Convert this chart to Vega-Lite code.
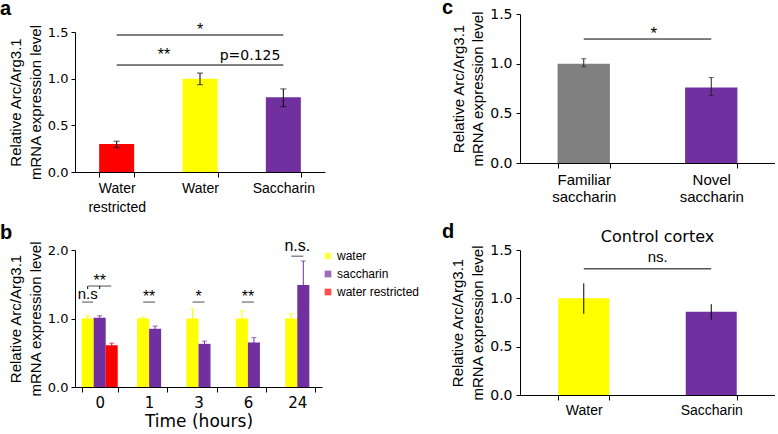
{
  "$schema": "https://vega.github.io/schema/vega-lite/v6.json",
  "padding": {"left": 0, "top": -2, "right": 0, "bottom": 0},
  "background": "white",
  "bounds": "flush",
  "columns": 2,
  "spacing": {"row": 78, "column": 195},
  "config": {
    "view": {"stroke": null},
    "font": "Liberation Sans",
    "axis": {"grid": false, "domainColor": "#000", "tickColor": "#000", "labelColor": "#000", "titleColor": "#000", "titleFontWeight": "normal", "titleFont": "Liberation Sans", "titleFontSize": 15, "titleLineHeight": 20, "labelFont": "DejaVu Sans", "labelFontSize": 13, "tickSize": 4, "labelPadding": 3, "titlePadding": 4},
    "axisX": {"labelFont": "Liberation Sans", "labelFontSize": 14, "labelAngle": 0, "tickBand": "extent", "tickSize": 5, "labelPadding": 4, "labelLineHeight": 19},
    "title": {"font": "Liberation Sans", "fontSize": 20, "fontWeight": "bold", "anchor": "start", "frame": "group", "color": "#000", "baseline": "alphabetic"},
    "tick": {"thickness": 1}
  },
  "resolve": {"scale": {"color": "independent"}, "legend": {"color": "independent"}},
  "concat": [
    {
      "width": 250, "height": 158,
      "title": {"text": "a", "dx": -75, "offset": -5},
      "data": {"values": [
        {"group": "Water restricted", "mean": 0.30, "lo": 0.26, "hi": 0.33},
        {"group": "Water", "mean": 1.0, "lo": 0.935, "hi": 1.06},
        {"group": "Saccharin", "mean": 0.80, "lo": 0.70, "hi": 0.89}
      ]},
      "layer": [
        {"mark": {"type": "bar"}, "encoding": {
          "x": {"field": "group", "type": "nominal", "scale": {"domain": ["Water restricted", "Water", "Saccharin"], "paddingInner": 0.58, "paddingOuter": 0.29}, "axis": {"title": null, "labelExpr": "split(datum.label, ' ')"}},
          "y": {"field": "mean", "type": "quantitative", "scale": {"domain": [0, 1.5], "range": [158, 18], "nice": false}, "axis": {"values": [0, 0.5, 1, 1.5], "format": ".1f", "title": ["Relative Arc/Arg3.1", "mRNA expression level"]}},
          "color": {"field": "group", "type": "nominal", "scale": {"domain": ["Water restricted", "Water", "Saccharin"], "range": ["#ff0000", "#ffff00", "#7030a0"]}, "legend": null}
        }},
        {"mark": {"type": "rule", "color": "#000"}, "encoding": {
          "x": {"field": "group", "type": "nominal", "title": null},
          "y": {"field": "lo", "type": "quantitative"}, "y2": {"field": "hi"}}},
        {"mark": {"type": "tick", "orient": "horizontal", "size": 6, "color": "#000"}, "encoding": {
          "x": {"field": "group", "type": "nominal", "title": null},
          "y": {"field": "lo", "type": "quantitative"}}},
        {"mark": {"type": "tick", "orient": "horizontal", "size": 6, "color": "#000"}, "encoding": {
          "x": {"field": "group", "type": "nominal", "title": null},
          "y": {"field": "hi", "type": "quantitative"}}},
        {"data": {"values": [
          {"from": "Water restricted", "to": "Saccharin", "level": 1.468},
          {"from": "Water restricted", "to": "Water", "level": 1.146},
          {"from": "Water", "to": "Saccharin", "level": 1.146}
        ]},
         "mark": {"type": "rule", "color": "#000"}, "encoding": {
          "x": {"field": "from", "type": "nominal", "title": null}, "x2": {"field": "to"},
          "y": {"field": "level", "type": "quantitative"}}},
        {"data": {"values": [{"label": "*", "at": "Water", "level": 1.468}]},
         "mark": {"type": "text", "fontSize": 16, "baseline": "alphabetic", "color": "#000"}, "encoding": {
          "x": {"field": "at", "type": "nominal", "title": null},
          "y": {"field": "level", "type": "quantitative"}, "text": {"field": "label"}}},
        {"data": {"values": [{"label": "**", "at": "Water", "level": 1.2}]},
         "mark": {"type": "text", "fontSize": 16, "baseline": "alphabetic", "color": "#000", "dx": -36}, "encoding": {
          "x": {"field": "at", "type": "nominal", "title": null},
          "y": {"field": "level", "type": "quantitative"}, "text": {"field": "label"}}},
        {"data": {"values": [{"label": "p=0.125", "at": "Water", "level": 1.2}]},
         "mark": {"type": "text", "fontSize": 14, "font": "DejaVu Sans", "baseline": "alphabetic", "color": "#000", "dx": 50}, "encoding": {
          "x": {"field": "at", "type": "nominal", "title": null},
          "y": {"field": "level", "type": "quantitative"}, "text": {"field": "label"}}}
      ]
    },
    {
      "width": 255, "height": 149,
      "title": {"text": "c", "dx": -78, "offset": -11},
      "data": {"values": [
        {"group": "Familiar saccharin", "mean": 1.0, "lo": 0.97, "hi": 1.05},
        {"group": "Novel saccharin", "mean": 0.76, "lo": 0.68, "hi": 0.86}
      ]},
      "encoding": {"x": {"field": "group", "type": "nominal", "scale": {"domain": ["Familiar saccharin", "Novel saccharin"], "paddingInner": 0.59, "paddingOuter": 0.295}, "axis": {"title": null, "labelExpr": "split(datum.label, ' ')", "labelFontSize": 15, "labelLineHeight": 17, "labelPadding": 4}}},
      "layer": [
        {"mark": {"type": "bar"}, "encoding": {
          "y": {"field": "mean", "type": "quantitative", "scale": {"domain": [0, 1.5], "nice": false}, "axis": {"values": [0, 0.5, 1, 1.5], "format": ".1f", "labelFontSize": 14, "labelPadding": 4, "titleLineHeight": 19, "title": ["Relative Arc/Arg3.1", "mRNA expression level"]}},
          "color": {"field": "group", "type": "nominal", "scale": {"domain": ["Familiar saccharin", "Novel saccharin"], "range": ["#808080", "#7030a0"]}, "legend": null}
        }},
        {"mark": {"type": "rule", "color": "#222"}, "encoding": {"y": {"field": "lo", "type": "quantitative"}, "y2": {"field": "hi"}}},
        {"mark": {"type": "tick", "orient": "horizontal", "size": 5, "color": "#222"}, "encoding": {"y": {"field": "lo", "type": "quantitative"}}},
        {"mark": {"type": "tick", "orient": "horizontal", "size": 5, "color": "#222"}, "encoding": {"y": {"field": "hi", "type": "quantitative"}}},
        {"data": {"values": [{"from": "Familiar saccharin", "to": "Novel saccharin", "level": 1.248}]},
         "mark": {"type": "rule", "color": "#000"}, "encoding": {
          "x": {"field": "from", "type": "nominal"}, "x2": {"field": "to"},
          "y": {"field": "level", "type": "quantitative"}}},
        {"data": {"values": [{"label": "*", "at": "Familiar saccharin", "level": 1.248}]},
         "mark": {"type": "text", "fontSize": 17, "baseline": "alphabetic", "color": "#000", "dx": 70}, "encoding": {
          "x": {"field": "at", "type": "nominal"},
          "y": {"field": "level", "type": "quantitative"}, "text": {"field": "label"}}}
      ]
    },
    {
      "width": 247, "height": 137,
      "title": {"text": "b", "dx": -75, "offset": -5},
      "encoding": {"x": {"field": "time", "type": "nominal", "scale": {"domain": ["0", "1", "3", "6", "24"], "paddingInner": 0.27, "paddingOuter": 0.135}, "axis": {"title": "Time (hours)", "titleFont": "DejaVu Sans", "titleFontSize": 17, "titlePadding": 3, "labelFont": "DejaVu Sans", "labelFontSize": 15, "labelPadding": 3}}},
      "layer": [
        {
          "data": {"values": [
            {"time": "0", "series": "water", "mean": 1.0, "lo": 0.96, "hi": 1.04},
            {"time": "0", "series": "saccharin", "mean": 1.01, "lo": 0.98, "hi": 1.04},
            {"time": "0", "series": "water restricted", "mean": 0.61, "lo": 0.58, "hi": 0.64}
          ]},
          "encoding": {
            "xOffset": {"field": "series", "type": "nominal", "scale": {"domain": ["water", "saccharin", "water restricted"], "paddingInner": 0, "paddingOuter": 0}},
            "color": {"field": "series", "type": "nominal", "scale": {"domain": ["water", "saccharin", "water restricted"], "range": ["#ffff00", "#7030a0", "#ff0000"]}, "legend": {"title": null, "orient": "right", "offset": 0, "symbolType": "square", "symbolSize": 45, "symbolStrokeWidth": 0, "labelFont": "Liberation Sans", "labelFontSize": 12, "labelColor": "#000", "rowPadding": 6, "labelOffset": 3, "padding": 0}}
          },
          "layer": [
            {"mark": {"type": "bar"}, "encoding": {"y": {"field": "mean", "type": "quantitative", "scale": {"domain": [0, 2], "nice": false}, "axis": {"values": [0, 0.5, 1, 1.5, 2], "format": ".1f", "title": ["Relative Arc/Arg3.1", "mRNA expression level"]}}}},
            {"mark": {"type": "rule", "color": "#000"}, "encoding": {"y": {"field": "lo", "type": "quantitative"}, "y2": {"field": "hi"}}},
            {"mark": {"type": "tick", "orient": "horizontal", "size": 5, "color": "#000"}, "encoding": {"y": {"field": "lo", "type": "quantitative"}}},
            {"mark": {"type": "tick", "orient": "horizontal", "size": 5, "color": "#000"}, "encoding": {"y": {"field": "hi", "type": "quantitative"}}}
          ]
        },
        {
          "data": {"values": [
            {"time": "1", "series": "water", "mean": 1.0, "lo": 0.98, "hi": 1.02},
            {"time": "1", "series": "saccharin", "mean": 0.85, "lo": 0.81, "hi": 0.89},
            {"time": "3", "series": "water", "mean": 1.0, "lo": 0.86, "hi": 1.14},
            {"time": "3", "series": "saccharin", "mean": 0.63, "lo": 0.59, "hi": 0.67},
            {"time": "6", "series": "water", "mean": 1.0, "lo": 0.89, "hi": 1.11},
            {"time": "6", "series": "saccharin", "mean": 0.65, "lo": 0.58, "hi": 0.72},
            {"time": "24", "series": "water", "mean": 1.0, "lo": 0.93, "hi": 1.07},
            {"time": "24", "series": "saccharin", "mean": 1.49, "lo": 1.14, "hi": 1.84}
          ]},
          "encoding": {
            "xOffset": {"field": "series", "type": "nominal", "scale": {"domain": ["water", "saccharin"], "paddingInner": 0, "paddingOuter": 0.5}},
            "color": {"field": "series", "type": "nominal"}
          },
          "layer": [
            {"mark": {"type": "bar"}, "encoding": {"y": {"field": "mean", "type": "quantitative"}}},
            {"mark": {"type": "rule", "color": "#000"}, "encoding": {"y": {"field": "lo", "type": "quantitative"}, "y2": {"field": "hi"}}},
            {"mark": {"type": "tick", "orient": "horizontal", "size": 5, "color": "#000"}, "encoding": {"y": {"field": "lo", "type": "quantitative"}}},
            {"mark": {"type": "tick", "orient": "horizontal", "size": 5, "color": "#000"}, "encoding": {"y": {"field": "hi", "type": "quantitative"}}}
          ]
        },
        {
          "data": {"values": [
            {"time": "1", "level": 1.24},
            {"time": "3", "level": 1.24},
            {"time": "6", "level": 1.24},
            {"time": "24", "level": 1.91}
          ]},
          "mark": {"type": "tick", "orient": "horizontal", "size": 12, "color": "#000"},
          "encoding": {"y": {"field": "level", "type": "quantitative"}}
        },
        {
          "data": {"values": [{"time": "0", "level": 1.474}]},
          "mark": {"type": "tick", "orient": "horizontal", "size": 23, "color": "#000"},
          "encoding": {"y": {"field": "level", "type": "quantitative"}}
        },
        {
          "data": {"values": [
            {"time": "1", "label": "**", "level": 1.24},
            {"time": "3", "label": "*", "level": 1.24},
            {"time": "6", "label": "**", "level": 1.24},
            {"time": "24", "label": "n.s.", "level": 1.985},
            {"time": "0", "label": "**", "level": 1.474}
          ]},
          "mark": {"type": "text", "fontSize": 16, "baseline": "alphabetic", "color": "#000"},
          "encoding": {"y": {"field": "level", "type": "quantitative"}, "text": {"field": "label"}}
        },
        {
          "data": {"values": [
            {"time": "0", "series": "water", "top": 1.474, "bottom": 1.43},
            {"time": "0", "series": "saccharin", "top": 1.474, "bottom": 1.43}
          ]},
          "mark": {"type": "rule", "color": "#000"},
          "encoding": {
            "xOffset": {"field": "series", "type": "nominal", "scale": {"domain": ["water", "saccharin", "water restricted"], "paddingInner": 0, "paddingOuter": 0}},
            "y": {"field": "top", "type": "quantitative"}, "y2": {"field": "bottom"}}
        },
        {
          "data": {"values": [{"time": "0", "series": "water", "level": 1.24, "label": "n.s", "textLevel": 1.285}]},
          "encoding": {
            "xOffset": {"field": "series", "type": "nominal", "bandPosition": 1, "scale": {"domain": ["water", "saccharin", "water restricted"], "paddingInner": 0, "paddingOuter": 0}}
          },
          "layer": [
            {"mark": {"type": "tick", "orient": "horizontal", "size": 11, "color": "#000"}, "encoding": {"y": {"field": "level", "type": "quantitative"}}},
            {"mark": {"type": "text", "fontSize": 15, "baseline": "alphabetic", "color": "#000"}, "encoding": {"y": {"field": "textLevel", "type": "quantitative"}, "text": {"field": "label"}}}
          ]
        }
      ],
      "resolve": {"scale": {"xOffset": "independent"}}
    },
    {
      "width": 255, "height": 145,
      "title": {"text": "d", "dx": -78, "offset": -14},
      "data": {"values": [
        {"group": "Water", "mean": 1.0, "lo": 0.84, "hi": 1.155},
        {"group": "Saccharin", "mean": 0.86, "lo": 0.78, "hi": 0.94}
      ]},
      "layer": [
        {"mark": {"type": "bar"}, "encoding": {
          "x": {"field": "group", "type": "nominal", "scale": {"domain": ["Water", "Saccharin"], "paddingInner": 0.6, "paddingOuter": 0.3}, "axis": {"title": null, "labelFontSize": 14, "labelPadding": 3}},
          "y": {"field": "mean", "type": "quantitative", "scale": {"domain": [0, 1.5], "nice": false}, "axis": {"values": [0, 0.5, 1, 1.5], "format": ".1f", "labelFontSize": 14, "labelPadding": 4, "titleLineHeight": 20, "title": ["Relative Arc/Arg3.1", "mRNA expression level"]}},
          "color": {"field": "group", "type": "nominal", "scale": {"domain": ["Water", "Saccharin"], "range": ["#ffff00", "#7030a0"]}, "legend": null}
        }},
        {"mark": {"type": "rule", "color": "#000"}, "encoding": {
          "x": {"field": "group", "type": "nominal", "axis": null},
          "y": {"field": "lo", "type": "quantitative"}, "y2": {"field": "hi"}}},
        {"data": {"values": [{"from": "Water", "to": "Saccharin", "level": 1.305}]},
         "mark": {"type": "rule", "color": "#000"}, "encoding": {
          "x": {"field": "from", "type": "nominal", "axis": {"orient": "top", "title": "Control cortex", "titleFont": "DejaVu Sans", "titleFontSize": 16, "titlePadding": 6, "titleX": 137, "labels": false, "ticks": false, "domain": false}}, "x2": {"field": "to"},
          "y": {"field": "level", "type": "quantitative"}}},
        {"data": {"values": [{"label": "ns.", "at": "Water", "level": 1.376}]},
         "mark": {"type": "text", "fontSize": 15, "baseline": "alphabetic", "color": "#000", "dx": 74}, "encoding": {
          "x": {"field": "at", "type": "nominal", "axis": null},
          "y": {"field": "level", "type": "quantitative"}, "text": {"field": "label"}}}
      ],
      "resolve": {"axis": {"x": "independent"}}
    }
  ]
}
